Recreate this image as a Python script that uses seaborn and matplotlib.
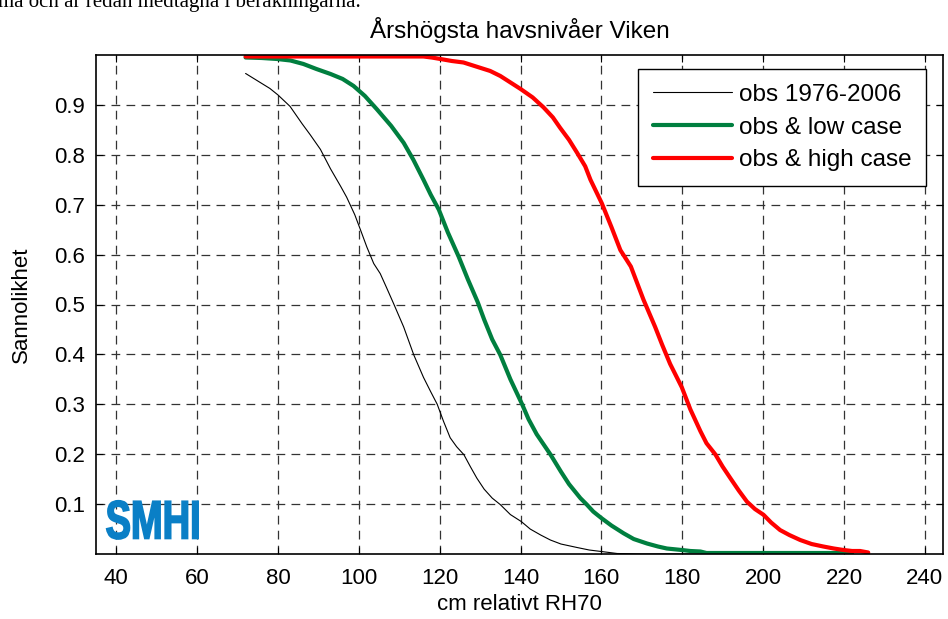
import numpy as np
import pandas as pd
import matplotlib
matplotlib.use('Agg')
import matplotlib.pyplot as plt
import seaborn as sns
from matplotlib.textpath import TextPath
from matplotlib.patches import PathPatch
from matplotlib.font_manager import FontProperties
from matplotlib.transforms import Affine2D

# --- data ---
obs_x = [72, 75, 78, 80, 83, 86, 88, 90.5, 93, 95.5, 97, 99, 100.4, 102, 103.7, 105.3,
         106.8, 108.6, 111.1, 113.6, 116, 117.8, 119.4, 121, 122.6, 124.2, 126, 127.6,
         129.2, 131, 133, 135, 137.5, 140.2, 142.4, 145, 147.4, 150, 154, 157, 160,
         163.9, 170, 186]
obs_y = [0.963, 0.948, 0.933, 0.92, 0.897, 0.862, 0.84, 0.811, 0.772, 0.737, 0.715, 0.68,
         0.65, 0.615, 0.582, 0.562, 0.535, 0.502, 0.455, 0.399, 0.354, 0.325, 0.300, 0.265,
         0.233, 0.215, 0.199, 0.175, 0.152, 0.13, 0.112, 0.099, 0.079, 0.065, 0.05, 0.038,
         0.028, 0.02, 0.013, 0.008, 0.005, 0.001, 0.0, 0.0]

low_x = [72, 76, 79.8, 83.1, 86.3, 89.5, 93, 96, 98.7, 101.5, 104.5, 108, 111.1, 113.5,
         116, 117.8, 119.8, 122, 124.7, 127, 129.4, 131, 133, 135, 137.5, 140.4, 142, 144,
         147.4, 150, 152, 154.8, 156.4, 158, 160, 162.5, 165.5, 168, 171.3, 174, 176.2,
         179.9, 182, 184.5, 186, 200, 222]
low_y = [0.995, 0.994, 0.992, 0.989, 0.982, 0.972, 0.962, 0.952, 0.938, 0.918, 0.891,
         0.858, 0.824, 0.79, 0.75, 0.72, 0.69, 0.645, 0.596, 0.55, 0.505, 0.47, 0.43, 0.399,
         0.35, 0.30, 0.27, 0.24, 0.1995, 0.165, 0.14, 0.112, 0.099, 0.085, 0.072, 0.057,
         0.0415, 0.03, 0.021, 0.015, 0.011, 0.008, 0.006, 0.005, 0.002, 0.002, 0.002]

high_x = [72, 100, 116, 118, 120.2, 123, 125.9, 129, 132.5, 135, 137.5, 140, 143, 145.7,
          148, 149.8, 152, 154, 156, 157.3, 160.1, 162.5, 164.7, 167.3, 170.4, 173.3, 175,
          177, 179.9, 182, 184.5, 186, 188.2, 190, 191.9, 194, 196, 198, 200.1, 202, 204.2,
          206.5, 209.2, 212, 214.9, 217.5, 219.9, 222, 224, 226]
high_y = [0.997, 0.997, 0.997, 0.995, 0.992, 0.988, 0.985, 0.977, 0.968, 0.958, 0.945,
          0.932, 0.915, 0.895, 0.875, 0.854, 0.83, 0.804, 0.777, 0.75, 0.703, 0.655, 0.609,
          0.576, 0.51, 0.455, 0.42, 0.381, 0.334, 0.29, 0.246, 0.222, 0.1995, 0.175, 0.152,
          0.127, 0.105, 0.09, 0.0786, 0.063, 0.048, 0.038, 0.028, 0.02, 0.015, 0.011, 0.008,
          0.006, 0.006, 0.003]

labels = ['obs 1976-2006', 'obs & low case', 'obs & high case']
x_ticks = [40, 60, 80, 100, 120, 140, 160, 180, 200, 220, 240]
y_ticks = [0.1, 0.2, 0.3, 0.4, 0.5, 0.6, 0.7, 0.8, 0.9]

# --- style ---
sns.set_style('ticks')
plt.rcParams['font.family'] = ['Liberation Sans', 'DejaVu Sans']
plt.rcParams['font.size'] = 16
for k in ['text.color', 'axes.labelcolor', 'xtick.color', 'ytick.color']:
    plt.rcParams[k] = 'black'

fig = plt.figure(figsize=(9.48, 6.19), dpi=100)
ax = fig.add_axes([96 / 948, 1 - 554 / 619, 847 / 948, 499 / 619])

sns.lineplot(x=obs_x, y=obs_y, ax=ax, color='black', lw=0.8, sort=False, label=labels[0])
sns.lineplot(x=low_x, y=low_y, ax=ax, color='#007f3f', lw=3, sort=False, label=labels[1])
sns.lineplot(x=high_x, y=high_y, ax=ax, color='#ff0000', lw=3, sort=False, label=labels[2])

ax.set_xlim(35, 244.5)
ax.set_ylim(0, 1)
ax.set_xticks(x_ticks)
ax.set_yticks(y_ticks)
ax.set_yticklabels([f'{v:.1f}' for v in y_ticks])
ax.tick_params(direction='in', top=True, right=True, length=5, width=0.8, labelsize=16)
ax.tick_params(axis='x', pad=10)
ax.tick_params(axis='y', pad=8)
ax.grid(True, linestyle=(0, (7, 5)), linewidth=0.9, color='#333333')
for s in ax.spines.values():
    s.set_linewidth(1.2)
    s.set_color('black')

ax.set_title('Årshögsta havsnivåer Viken', fontsize=17.5, pad=12)
ax.set_xlabel('cm relativt RH70', fontsize=16, labelpad=4)
ax.set_ylabel('Sannolikhet', fontsize=16, labelpad=16)

leg = ax.legend(loc='upper right', bbox_to_anchor=(1 - 17 / 847, 1 - 14 / 499),
                borderaxespad=0, fontsize=17.5, frameon=True, fancybox=False,
                framealpha=1, edgecolor='black', handlelength=3.25, borderpad=0.6,
                labelspacing=0.45, handletextpad=0.3)
leg.get_frame().set_linewidth(1.0)

# SMHI logo, fitted into a small box in axes coordinates
tp = TextPath((0, 0), 'SMHI', size=10, prop=FontProperties(family='Liberation Sans', weight='bold'))
bb = tp.get_extents()
bx, by, bw, bh = 0.0126, 0.030, 0.108, 0.0768
tr = Affine2D().translate(-bb.x0, -bb.y0).scale(bw / bb.width, bh / bb.height).translate(bx, by)
logo = PathPatch(tr.transform_path(tp), transform=ax.transAxes, facecolor='#0a7fc6',
                 edgecolor='#0a7fc6', lw=1.2, zorder=5)
ax.add_patch(logo)

# clipped line of body text above the chart (cut off in the reference as well)
fig.text(-0.002, 1 - 7 / 619, 'ma och är redan medtagna i beräkningarna.',
         family='Liberation Serif', fontsize=15, va='baseline', ha='left')

fig.savefig('out.png', dpi=100)
